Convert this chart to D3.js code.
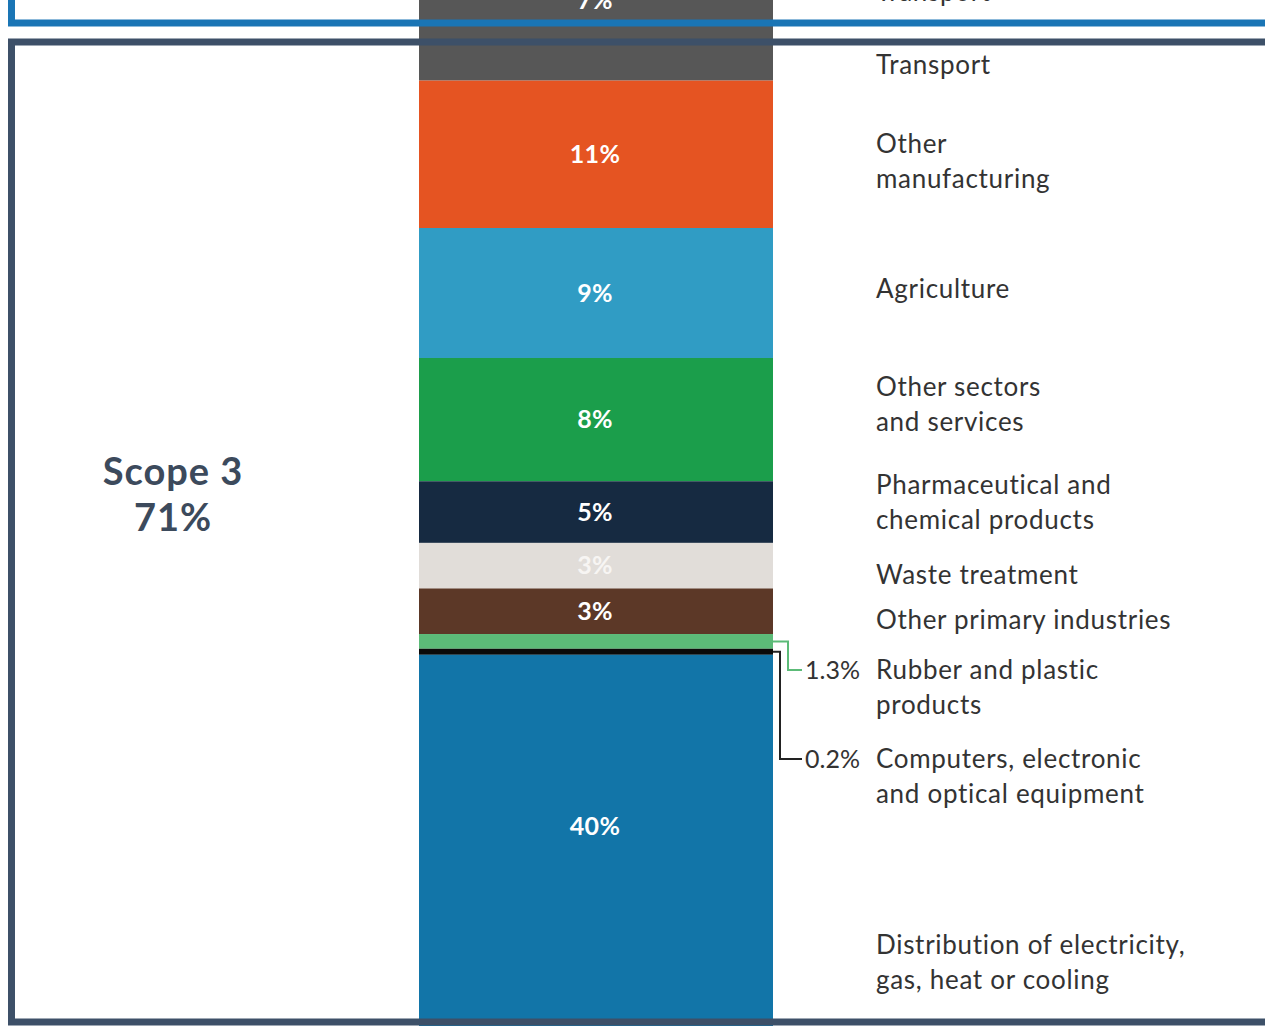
<!DOCTYPE html>
<html>
<head>
<meta charset="utf-8">
<script src="https://cdn.jsdelivr.net/npm/d3@7"></script>
<style>
  body { margin: 0; background: #fff; }
  svg { display: block; font-family: Lato, "Open Sans", sans-serif; }
</style>
</head>
<body>
<svg id="chart" width="1265" height="1026"></svg>
<script>
// data, top of the bar down
const sectors = [
  "Transport",
  "Transport",
  "Other manufacturing",
  "Agriculture",
  "Other sectors and services",
  "Pharmaceutical and chemical products",
  "Waste treatment",
  "Other primary industries",
  "Rubber and plastic products",
  "Computers, electronic and optical equipment",
  "Distribution of electricity, gas, heat or cooling"
];
const scopes = ["1+2", "3", "3", "3", "3", "3", "3", "3", "3", "3", "3"];
const shares = [6, 3, 11, 9.7, 9.2, 4.6, 3.4, 3.4, 1.1, 0.45, 40];
const valueLabels = ["7%", "", "11%", "9%", "8%", "5%", "3%", "3%", "1.3%", "0.2%", "40%"];
const nameLines = [
  ["Transport"],
  ["Transport"],
  ["Other", "manufacturing"],
  ["Agriculture"],
  ["Other sectors", "and services"],
  ["Pharmaceutical and", "chemical products"],
  ["Waste treatment"],
  ["Other primary industries"],
  ["Rubber and plastic", "products"],
  ["Computers, electronic", "and optical equipment"],
  ["Distribution of electricity,", "gas, heat or cooling"]
];
const colors = ["#575757", "#575757", "#e55422", "#309cc4", "#1b9e4b", "#162a41",
  "#e1ddd9", "#5c3827", "#5cbb78", "#0a0a0a", "#1275a8"];
const scopeTitle = ["Scope 3", "71%"];

const W = 1265, H = 1026;
const svg = d3.select("#chart");

// nudges for the right-hand names (px)
const nameShift = [-8, 4, 7, -4, -15, -10, 9, 9, 0, 0, 0];

const x = d3.scaleBand().domain(["all"]).range([419, 773]);
const y = d3.scaleLinear().domain([0, 100]).range([-40, 1300]);

let acc = 0;
const segs = shares.map((v, i) => {
  const s = { i, y0: acc, y1: acc + v, name: sectors[i], scope: scopes[i] };
  acc += v;
  return s;
});

// bar
svg.selectAll("rect.seg")
  .data(segs)
  .join("rect")
  .attr("class", "seg")
  .attr("x", x("all"))
  .attr("width", x.bandwidth())
  .attr("y", d => y(d.y0))
  .attr("height", d => y(d.y1) - y(d.y0))
  .attr("fill", d => colors[d.i]);

// scope boxes
const boxLeft = 11.5;
svg.append("path")
  .attr("d", `M${boxLeft},-20 V23 H${W + 10}`)
  .attr("fill", "none").attr("stroke", "#1a75b5").attr("stroke-width", 7);
const s3top = y(segs[1].y0) + 1.5;
svg.append("path")
  .attr("d", `M${W + 10},${s3top} H${boxLeft} V1022 H${W + 10}`)
  .attr("fill", "none").attr("stroke", "#3d5068").attr("stroke-width", 7);

// value labels inside the bar
const visMid = d => (Math.max(y(d.y0), 0) + Math.min(y(d.y1), 997)) / 2;
svg.selectAll("text.val")
  .data(segs.filter(d => valueLabels[d.i] && d.i !== 8 && d.i !== 9))
  .join("text")
  .attr("class", "val")
  .attr("x", x("all") + x.bandwidth() / 2 - 1)
  .attr("y", d => d.i === 0 ? (y(d.y0) + y(d.y1)) / 2 : visMid(d))
  .attr("dy", "0.35em")
  .attr("text-anchor", "middle")
  .attr("fill", d => d.i === 6 ? "#f7f5f3" : "#fff")
  .attr("font-size", 25)
  .attr("font-weight", 700)
  .attr("letter-spacing", 0.3)
  .text(d => valueLabels[d.i]);

// sector names on the right
const nameX = 876, lh = 35;
segs.forEach(d => {
  const lines = nameLines[d.i];
  let top;
  if (d.i === 8) top = 670;
  else if (d.i === 9) top = 759;
  else if (d.i === 10) top = 945;
  else top = (y(d.y0) + y(d.y1)) / 2 + nameShift[d.i] - (lines.length - 1) * lh / 2;
  const t = svg.append("text")
    .attr("x", nameX)
    .attr("fill", "#333")
    .attr("font-size", 26)
    .attr("letter-spacing", 0.7);
  lines.forEach((l, k) => {
    t.append("tspan").attr("x", nameX).attr("y", top + k * lh).attr("dy", "0.35em").text(l);
  });
});

// leader lines for the thin slices
const leaders = [
  { i: 8, elbow: 788, end: 670, stroke: "#5cbb78" },
  { i: 9, elbow: 780, end: 759, stroke: "#222" }
];
const barRight = x("all") + x.bandwidth();
leaders.forEach(l => {
  const d = segs[l.i];
  const my = (y(d.y0) + y(d.y1)) / 2;
  svg.append("path")
    .attr("d", `M${barRight},${my} H${l.elbow} V${l.end} H${802}`)
    .attr("fill", "none").attr("stroke", l.stroke).attr("stroke-width", 2);
  svg.append("text")
    .attr("x", 805).attr("y", l.end).attr("dy", "0.35em")
    .attr("fill", "#333").attr("font-size", 25)
    .text(valueLabels[l.i]);
});

// scope title
svg.append("text")
  .attr("text-anchor", "middle")
  .attr("fill", "#3c4a5c")
  .attr("font-size", 38)
  .attr("font-weight", 700)
  .attr("letter-spacing", 1)
  .selectAll("tspan")
  .data(scopeTitle)
  .join("tspan")
  .attr("x", 173)
  .attr("y", (d, k) => 472 + k * 46)
  .attr("dy", "0.35em")
  .text(d => d);
</script>
</body>
</html>
